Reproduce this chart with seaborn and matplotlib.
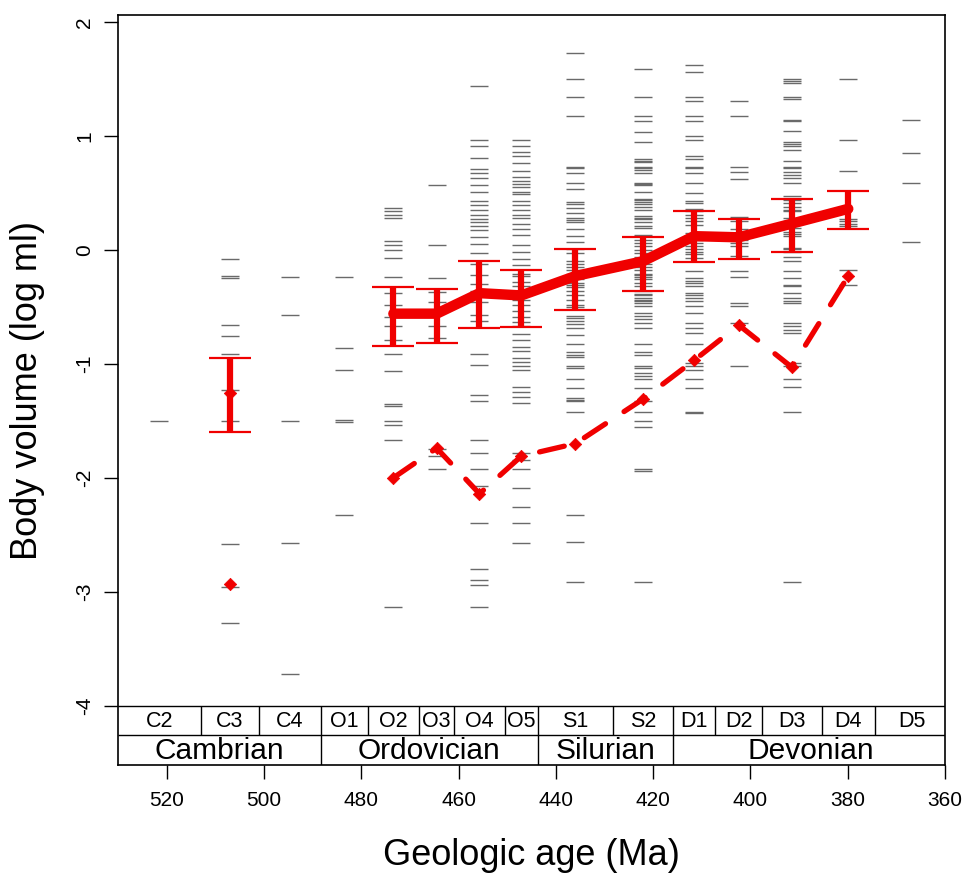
import pandas as pd
import seaborn as sns
import matplotlib.pyplot as plt

# geologic time scale (Ma)
stages = ['C2', 'C3', 'C4', 'O1', 'O2', 'O3', 'O4', 'O5', 'S1', 'S2', 'D1', 'D2', 'D3', 'D4', 'D5']
stage_bounds = [530, 513, 501, 488.3, 478.6, 468.1, 460.9, 450.4, 443.7, 428.2, 416.0, 407.2, 397.6, 385.3, 374.5, 359.2]
stage_mid = [521.5, 507.0, 494.7, 483.5, 473.4, 464.5, 455.7, 447.1, 436.0, 422.1, 411.6, 402.4, 391.5, 379.9, 366.9]
periods = ['Cambrian', 'Ordovician', 'Silurian', 'Devonian']
period_bounds = [530, 488.3, 443.7, 416.0, 359.2]

# body volumes (log ml) of each genus, per stage
c2 = [-1.50]
c3 = [-0.08, -0.23, -0.25, -0.66, -0.76, -0.91, -1.23, -1.50, -2.58, -2.96, -3.27]
c4 = [-0.24, -0.57, -1.50, -2.57, -3.72]
o1 = [-0.24, -0.86, -1.05, -1.49, -1.51, -2.33]
o2 = [0.37, 0.34, 0.31, 0.28, 0.08, 0.04, 0.00, -0.07, -0.24, -0.38, -0.48, -0.59, -0.67, -0.79,
      -0.91, -1.06, -1.35, -1.37, -1.50, -1.54, -1.67, -3.13]
o3 = [0.57, 0.04, -0.25, -0.37, -0.46, -0.67, -0.77, -1.75, -1.81, -1.92]
o4 = [1.44, 0.96, 0.91, 0.81, 0.71, 0.67, 0.63, 0.57, 0.51, 0.43, 0.39, 0.35, 0.31, 0.27, 0.24,
      0.21, 0.17, 0.11, 0.05, -0.03, -0.12, -0.22, -0.30, -0.36, -0.46, -0.57, -0.62, -0.91, -1.01,
      -1.27, -1.33, -1.67, -1.78, -1.92, -2.07, -2.40, -2.80, -2.90, -2.94, -3.13]
o5 = [0.96, 0.91, 0.86, 0.82, 0.76, 0.69, 0.64, 0.60, 0.58, 0.55, 0.51, 0.49, 0.43, 0.39, 0.35,
      0.31, 0.28, 0.23, 0.18, 0.13, 0.04, -0.02, -0.08, -0.13, -0.21, -0.23, -0.28, -0.32, -0.38,
      -0.44, -0.48, -0.54, -0.59, -0.63, -0.67, -0.74, -0.79, -0.85, -0.89, -0.95, -0.98, -1.02,
      -1.05, -1.20, -1.25, -1.29, -1.34, -1.78, -1.84, -1.92, -2.09, -2.26, -2.40, -2.57]
s1 = [1.73, 1.50, 1.34, 1.17, 0.73, 0.72, 0.67, 0.59, 0.53, 0.42, 0.40, 0.37, 0.32, 0.28, 0.26,
      0.24, 0.18, 0.12, 0.07, 0.01, -0.03, -0.10, -0.12, -0.15, -0.18, -0.21, -0.23, -0.26, -0.29,
      -0.31, -0.33, -0.36, -0.40, -0.44, -0.48, -0.50, -0.58, -0.60, -0.62, -0.65, -0.69, -0.75,
      -0.83, -0.90, -0.92, -0.94, -1.02, -1.04, -1.13, -1.21, -1.30, -1.32, -1.33, -1.42, -2.33,
      -2.56, -2.91]
s2 = [1.59, 1.34, 1.17, 1.13, 1.03, 0.95, 0.80, 0.78, 0.77, 0.73, 0.72, 0.70, 0.67, 0.59, 0.58,
      0.57, 0.51, 0.45, 0.44, 0.42, 0.40, 0.38, 0.35, 0.30, 0.28, 0.27, 0.24, 0.21, 0.19, 0.13,
      0.09, 0.06, 0.03, 0.00, -0.03, -0.06, -0.09, -0.12, -0.15, -0.18, -0.21, -0.22, -0.24, -0.26,
      -0.29, -0.32, -0.36, -0.39, -0.40, -0.42, -0.44, -0.45, -0.47, -0.49, -0.55, -0.58, -0.61,
      -0.64, -0.69, -0.83, -0.90, -0.92, -1.02, -1.04, -1.08, -1.11, -1.13, -1.21, -1.33, -1.42,
      -1.50, -1.55, -1.92, -1.94, -2.91]
d1 = [1.62, 1.56, 1.34, 1.31, 1.17, 1.13, 1.00, 0.96, 0.82, 0.80, 0.73, 0.72, 0.67, 0.59, 0.50,
      0.43, 0.41, 0.36, 0.34, 0.31, 0.28, 0.25, 0.22, 0.15, 0.12, 0.09, 0.06, 0.03, 0.01, -0.02,
      -0.04, -0.07, -0.19, -0.25, -0.27, -0.29, -0.32, -0.38, -0.40, -0.42, -0.45, -0.49, -0.55,
      -0.64, -0.69, -0.73, -0.83, -0.99, -1.02, -1.05, -1.13, -1.21, -1.42, -1.43]
d2 = [1.31, 1.17, 0.73, 0.68, 0.62, 0.29, 0.25, 0.18, 0.15, 0.09, 0.06, 0.03, -0.05, -0.19, -0.24,
      -0.47, -0.49, -0.64, -1.02]
d3 = [1.50, 1.48, 1.46, 1.34, 1.32, 1.14, 1.13, 1.04, 0.95, 0.93, 0.91, 0.88, 0.78, 0.73, 0.72,
      0.68, 0.66, 0.63, 0.59, 0.47, 0.44, 0.41, 0.38, 0.35, 0.34, 0.28, 0.25, 0.19, 0.16, 0.14,
      0.12, 0.02, 0.01, -0.02, -0.06, -0.10, -0.19, -0.25, -0.31, -0.32, -0.38, -0.42, -0.45,
      -0.47, -0.64, -0.67, -0.70, -0.73, -0.99, -1.02, -1.13, -1.20, -1.42, -2.91]
d4 = [1.50, 0.96, 0.69, 0.27, 0.25, 0.23, 0.21, -0.18, -0.31]
d5 = [1.14, 0.85, 0.59, 0.07]

# stage means with error bars (C3 stands alone, the rest are joined)
mean_stages = ['C3', 'O2', 'O3', 'O4', 'O5', 'S1', 'S2', 'D1', 'D2', 'D3', 'D4']
mean_vals = [-1.26, -0.56, -0.56, -0.38, -0.40, -0.23, -0.10, 0.12, 0.11, 0.23, 0.36]
mean_hi = [-0.95, -0.33, -0.34, -0.10, -0.18, 0.01, 0.11, 0.34, 0.27, 0.45, 0.52]
mean_lo = [-1.60, -0.84, -0.82, -0.69, -0.68, -0.53, -0.36, -0.11, -0.08, -0.02, 0.18]

# dashed series
low_stages = ['C3', 'O2', 'O3', 'O4', 'O5', 'S1', 'S2', 'D1', 'D2', 'D3', 'D4']
low_vals = [-2.93, -2.00, -1.74, -2.14, -1.81, -1.70, -1.31, -0.97, -0.66, -1.03, -0.23]

per_stage = [c2, c3, c4, o1, o2, o3, o4, o5, s1, s2, d1, d2, d3, d4, d5]
rows = [(stage_mid[i], v) for i, vals in enumerate(per_stage) for v in vals]
df = pd.DataFrame(rows, columns=['age', 'vol'])
mid = dict(zip(stages, stage_mid))
mean_df = pd.DataFrame({'age': [mid[s] for s in mean_stages], 'vol': mean_vals,
                        'hi': mean_hi, 'lo': mean_lo})
low_df = pd.DataFrame({'age': [mid[s] for s in low_stages], 'vol': low_vals})

sns.set_style('ticks', rc={'text.color': 'black', 'axes.labelcolor': 'black',
                           'xtick.color': 'black', 'ytick.color': 'black',
                           'axes.edgecolor': 'black'})
plt.rcParams['font.family'] = ['Liberation Sans', 'DejaVu Sans']

fig = plt.figure(figsize=(9.69, 8.75), dpi=100)
ax = fig.add_axes([0.1218, 0.1257, 0.8535, 0.8571])

sns.scatterplot(data=df, x='age', y='vol', marker='_', s=150, color='#6a6a6a',
                linewidth=1.0, ax=ax, zorder=2, legend=False)

red = '#f00000'
sns.lineplot(data=low_df.iloc[1:], x='age', y='vol', color=red, lw=3.8, sort=False,
             linestyle=(0, (4.8, 4.2)), dash_capstyle='round', ax=ax, zorder=3)
sns.scatterplot(data=low_df, x='age', y='vol', marker='D', s=40, color=red,
                edgecolor=red, ax=ax, zorder=4, legend=False)

sns.lineplot(data=mean_df.iloc[1:], x='age', y='vol', color=red, lw=7.5, sort=False,
             solid_capstyle='round', solid_joinstyle='round', ax=ax, zorder=5)
ax.errorbar(mean_df['age'], mean_df['vol'],
            yerr=[mean_df['vol'] - mean_df['lo'], mean_df['hi'] - mean_df['vol']],
            fmt='none', ecolor=red, elinewidth=4.5, capsize=15, capthick=1.6, zorder=5)
sns.scatterplot(data=mean_df.iloc[:1], x='age', y='vol', marker='D', s=40, color=red,
                edgecolor=red, ax=ax, zorder=6, legend=False)

# time scale strip
top, midline, bottom = -4.0, -4.26, -4.52
ax.hlines([top, midline], 530, 359.2, color='black', lw=1, zorder=7)
ax.vlines(stage_bounds[1:-1], midline, top, color='black', lw=1, zorder=7)
ax.vlines(period_bounds[1:-1], bottom, midline, color='black', lw=1, zorder=7)
for name, a, b in zip(stages, stage_bounds[:-1], stage_bounds[1:]):
    ax.text((a + b) / 2, (top + midline) / 2 - 0.005, name, ha='center', va='center', fontsize=15.5)
for name, a, b in zip(periods, period_bounds[:-1], period_bounds[1:]):
    ax.text((a + b) / 2, (midline + bottom) / 2 - 0.01, name, ha='center', va='center', fontsize=21.5)

ax.set_xlim(530, 360)
ax.set_ylim(-4.52, 2.06)
ax.set_xticks(range(520, 359, -20))
ax.set_yticks(range(-4, 3))
ax.set_yticklabels([str(v) for v in range(-4, 3)], rotation=90, va='center')
ax.tick_params(direction='out', length=10, width=1, color='black', labelsize=15, pad=7)
ax.tick_params(axis='x', pad=9)
for sp in ax.spines.values():
    sp.set_visible(True)
    sp.set_color('black')
    sp.set_linewidth(1.2)

ax.set_xlabel('Geologic age (Ma)', fontsize=26, labelpad=20)
ax.set_ylabel('Body volume (log ml)', fontsize=26, labelpad=22)

fig.savefig('out.png', dpi=100)
